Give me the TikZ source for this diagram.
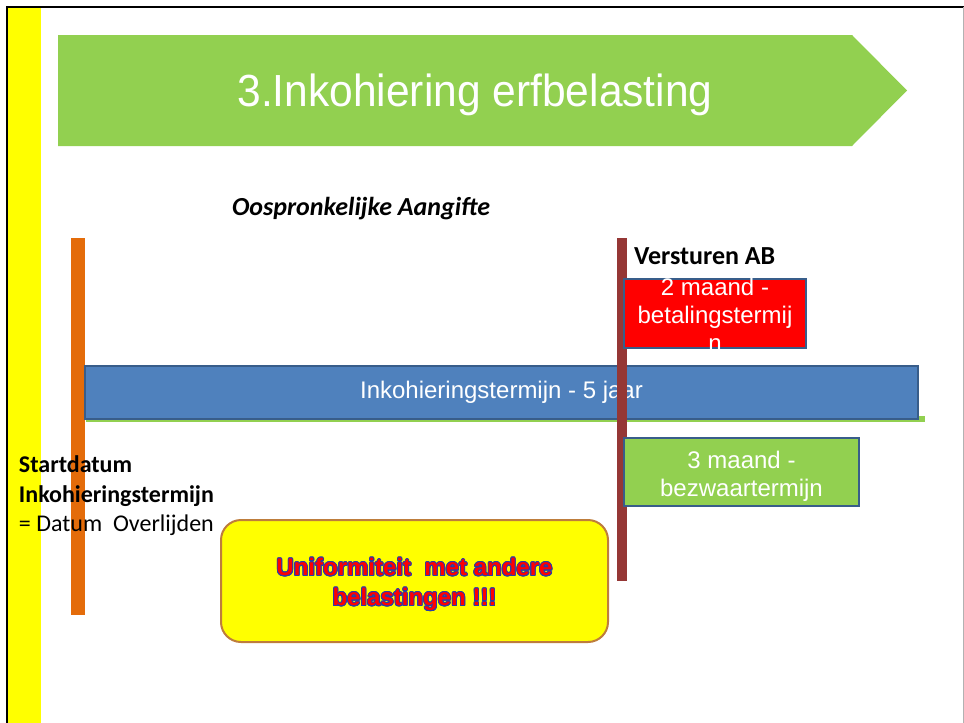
\documentclass[tikz,border=0pt]{standalone}
\usepackage{fontspec}
\setmainfont{Liberation Sans}
\newfontfamily\calibri{Carlito}
\usepackage{contour}
\contourlength{0.9pt}
\definecolor{titlegreen}{HTML}{92D050}
\definecolor{barblue}{HTML}{4F81BD}
\definecolor{boxborder}{HTML}{385D8A}
\definecolor{orangebar}{HTML}{E46C0A}
\definecolor{brownbar}{HTML}{953735}
\definecolor{yellowborder}{RGB}{190,125,60}
\definecolor{outlineblue}{RGB}{40,60,170}
\definecolor{pureyellow}{RGB}{255,255,0}
\begin{document}
\begin{tikzpicture}[x=1pt,y=-1pt,
  plainbar/.style={inner sep=0pt, outer sep=0pt, anchor=north west},
  termbox/.style={draw=boxborder, line width=1.5pt, inner sep=0pt, outer sep=0pt, anchor=north west,
     text=white, align=center, font=\fontsize{24}{28}\selectfont},
  calibritext/.style={inner sep=0pt, outer sep=0pt, text=black}
]
\useasboundingbox (0,0) rectangle (964,723);
% page frame and yellow strip
\fill[pureyellow] (8,8) rectangle (41,723);
\draw[black, line width=2pt] (7,723) -- (7,7) -- (964,7);
\draw[black!30, line width=1pt] (963,7) -- (963,723);
% title arrow
\fill[titlegreen] (58,35) -- (852,35) -- (907,90.5) -- (852,146) -- (58,146) -- cycle;
\node[text=white, font=\fontsize{45}{50}\selectfont, xscale=0.945, anchor=base, inner sep=0pt] (title) at (475,106) {3.Inkohiering erfbelasting};
% heading
\node[calibritext, font=\calibri\bfseries\itshape\fontsize{26}{30}\selectfont, anchor=base west] (aangifte) at (232,215) {Oospronkelijke Aangifte};
% orange start bar
\node[plainbar, fill=orangebar, minimum width=14pt, minimum height=377pt] (startbar) at (71,238) {};
% green line under blue bar
\fill[titlegreen] (86,416) rectangle (925,421.5);
% blue bar
\node[termbox, fill=barblue, minimum width=833pt, minimum height=53pt] (termijn) at (85,366) {Inkohieringstermijn - 5 jaar};
% brown bar
\node[plainbar, fill=brownbar, minimum width=10pt, minimum height=343pt] (abbar) at (617,238) {};
% red box
\node[termbox, fill=red, minimum width=182pt, minimum height=69pt] (betaling) at (624,279) {};
\node[text=white, align=center, font=\fontsize{24}{28}\selectfont, inner sep=0pt] at ([yshift=-1pt]betaling.center) {2 maand -\\betalingstermij\\n};
% green box
\node[termbox, fill=titlegreen, minimum width=235pt, minimum height=68pt] (bezwaar) at (624,438) {};
\node[text=white, align=center, font=\fontsize{24}{28}\selectfont, inner sep=0pt] at ([yshift=-4pt]bezwaar.center) {3 maand -\\bezwaartermijn};
% Versturen AB
\node[calibritext, font=\calibri\bfseries\fontsize{26}{30}\selectfont, anchor=base west] (versturen) at (634,264) {Versturen AB};
% left text
\node[calibritext, font=\calibri\fontsize{24}{29.5}\selectfont, align=left, anchor=north west] (start) at (19,456) {\textbf{Startdatum}\\\textbf{Inkohieringstermijn}\\= Datum\ \ Overlijden};
% yellow box
\node[draw=yellowborder, line width=2pt, fill=pureyellow, rounded corners=20pt, minimum width=387pt, minimum height=122pt, anchor=north west, inner sep=0pt, outer sep=0pt] (uniform) at (221,520) {};
\node[align=center, font=\fontsize{24}{30}\selectfont\bfseries, inner sep=0pt] at ([yshift=-4pt]uniform.center) {\contour{outlineblue}{\textcolor{red}{Uniformiteit\ \ met andere}}\\\contour{outlineblue}{\textcolor{red}{belastingen !!!}}};
\end{tikzpicture}
\end{document}
